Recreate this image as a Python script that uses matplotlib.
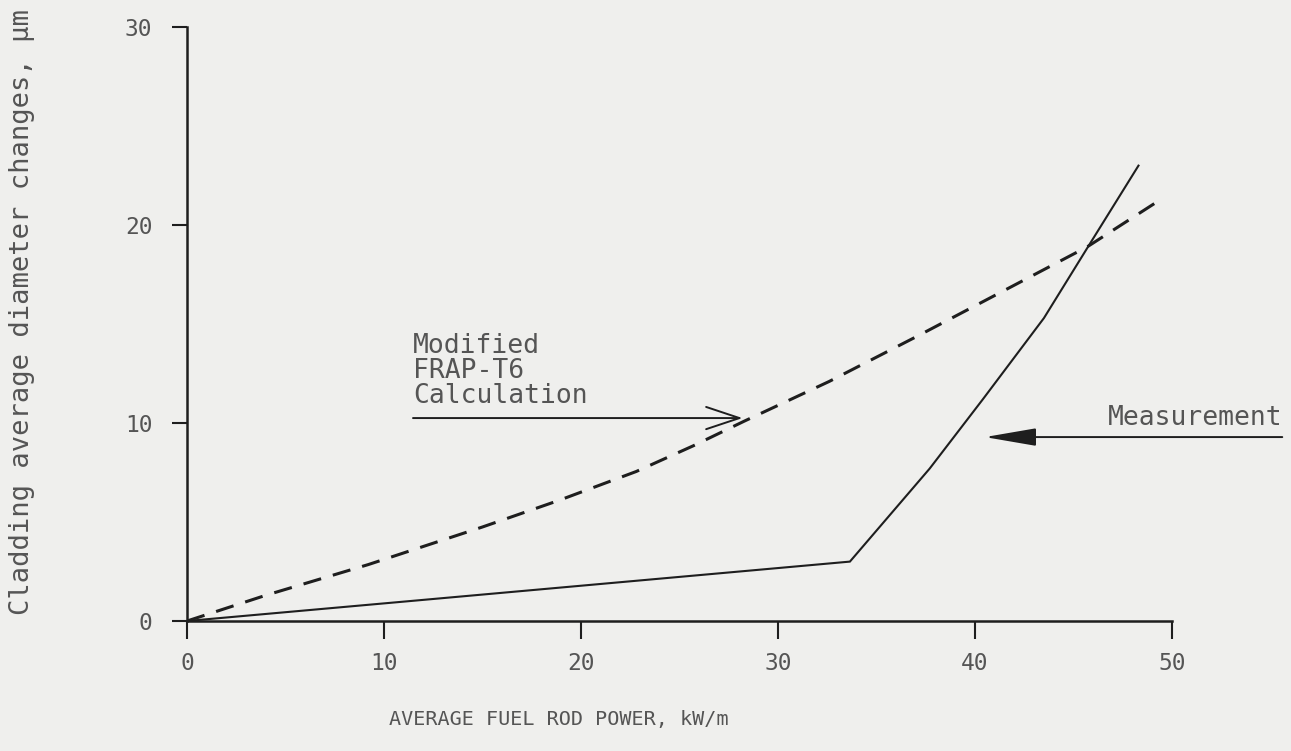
import matplotlib
matplotlib.use("Agg")
import matplotlib.pyplot as plt

# Measured cladding diameter change vs. rod power
measured_power = [0, 11.8, 33.65, 37.7, 40.4, 43.5, 45.8, 48.3]
measured_change = [0, 1.05, 3.0, 7.7, 11.2, 15.3, 19.0, 23.0]

# Modified FRAP-T6 calculation
calc_power = [0, 4.0, 9.2, 15.0, 18.9, 22.8, 25.7, 28.3, 32.6, 37.1, 45.7, 49.6]
calc_change = [0, 1.3, 2.85, 4.75, 6.1, 7.55, 8.85, 10.1, 12.1, 14.4, 18.9, 21.4]

x_ticks = [0, 10, 20, 30, 40, 50]
y_ticks = [0, 10, 20, 30]

ink = "#1e1e1e"
text_gray = "#555555"
paper = "#efefed"
font = "DejaVu Sans Mono"

fig = plt.figure(figsize=(12.91, 7.51), dpi=100, facecolor=paper)
ax = fig.add_axes([0.1449, 0.1731, 0.7629, 0.7909])
ax.set_facecolor(paper)

ax.plot(measured_power, measured_change, color=ink, lw=1.5, solid_joinstyle="miter")
ax.plot(calc_power, calc_change, color=ink, lw=2.2, linestyle=(0, (6, 4)))

ax.set_xlim(0, 50)
ax.set_ylim(0, 30)
ax.set_xticks(x_ticks)
ax.set_yticks(y_ticks)

for side in ["top", "right"]:
    ax.spines[side].set_visible(False)
for side in ["left", "bottom"]:
    ax.spines[side].set_linewidth(1.8)
    ax.spines[side].set_color(ink)

ax.tick_params(axis="x", direction="out", length=13, width=1.5, color=ink,
               labelsize=16.5, labelcolor=text_gray, pad=9)
ax.tick_params(axis="y", direction="out", length=11, width=1.5, color=ink,
               labelsize=16.5, labelcolor=text_gray, pad=14)
for lbl in ax.get_xticklabels() + ax.get_yticklabels():
    lbl.set_family(font)

ax.set_xlabel("AVERAGE FUEL ROD POWER, kW/m", fontsize=14.5, family=font,
              color=text_gray)
ax.xaxis.set_label_coords((559 - 187) / 985, -(720 - 621) / 594)
ax.xaxis.label.set_va("center")
fig.text(22 / 1291, 1 - 312 / 751, "Cladding average diameter changes, μm",
         rotation=90, ha="center", va="center", fontsize=19.5, family=font,
         color=text_gray)

# labels with pointer arrows
ax.text(11.47, 10.7, "Modified\nFRAP-T6\nCalculation", ha="left", va="bottom",
        fontsize=19, family=font, color=text_gray, linespacing=0.95)
ax.annotate("", xy=(28.2, 10.25), xytext=(11.47, 10.25),
            arrowprops=dict(arrowstyle="->,head_length=2.4,head_width=0.8",
                            mutation_scale=10, color=ink, lw=1.4,
                            shrinkA=0, shrinkB=0))

ax.text(55.6, 9.6, "Measurement", ha="right", va="bottom", fontsize=19,
        family=font, color=text_gray, clip_on=False)
ax.annotate("", xy=(40.5, 9.29), xytext=(55.6, 9.29), annotation_clip=False,
            arrowprops=dict(arrowstyle="-|>,head_length=3.2,head_width=0.55",
                            mutation_scale=10, color=ink, lw=1.4,
                            shrinkA=0, shrinkB=0))

fig.savefig("out.png", dpi=100, facecolor=paper)
